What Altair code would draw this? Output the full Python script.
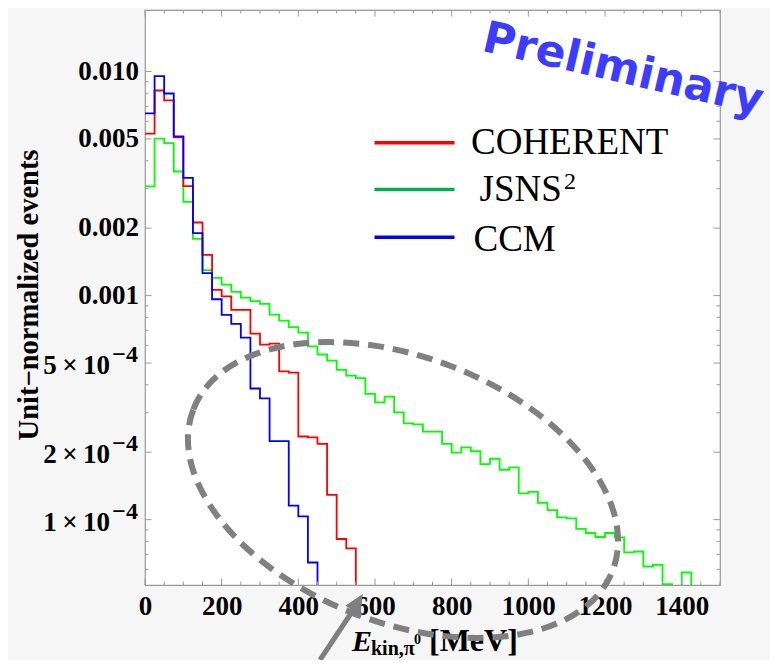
import altair as alt
import pandas as pd

# ---------------- data ----------------
BIN_WIDTH = 25  # MeV
SERIES = ["JSNS²", "COHERENT", "CCM"]          # drawing order (CCM on top)
LEGEND_ORDER = ["COHERENT", "JSNS²", "CCM"]

COHERENT = [0.00528, 0.00823, 0.00743, 0.00509, 0.00308, 0.00212, 0.00152, 0.00106,
            0.000993, 0.000863, 0.000863, 0.000676, 0.000604, 0.000610, 0.000459, 0.000453,
            0.000235, 0.000233, 0.000218, 0.000129, 8.2e-5, 7.45e-5]

JSNS2 = [0.00307, 0.00502, 0.00479, 0.00358, 0.00262, 0.00179, 0.00130, 0.00120,
         0.00112, 0.00104, 0.000980, 0.000944, 0.000919, 0.000822, 0.000773, 0.000724,
         0.000683, 0.000593, 0.000546, 0.000513, 0.000466, 0.000439, 0.000428, 0.000364,
         0.000334, 0.000354, 0.000301, 0.000269, 0.000266, 0.000247, 0.000247, 0.000218,
         0.000199, 0.000210, 0.000202, 0.000177, 0.000187, 0.000167, 0.000171, 0.000131,
         0.000133, 0.000119, 0.0001103, 0.0001023, 0.0001013, 9.09e-5, 8.72e-5, 8.37e-5,
         8.72e-5, 8.34e-5, 7.14e-5, 7.21e-5, 6.18e-5, 6.28e-5, 5.16e-5, None, 5.81e-5]

CCM = [0.00651, 0.00953, 0.00798, 0.00514, 0.00335, 0.00190, 0.00126, 0.000963,
       0.000820, 0.000748, 0.000649, 0.000385, 0.000348, 0.000224, 0.000224, 0.0001155,
       0.0001035, 6.44e-5]

X_TICKS = [0, 200, 400, 600, 800, 1000, 1200, 1400]
X_MINOR = [v for v in range(0, 1501, 50) if v not in X_TICKS]
Y_DEC_TICKS = [1e-3, 2e-3, 5e-3, 1e-2]
Y_DEC_LABELS = ["0.001", "0.002", "0.005", "0.010"]
Y_SCI_TICKS = [1e-4, 2e-4, 5e-4]
Y_SCI_MANT = ["1\u2009×\u200910", "2\u2009×\u200910", "5\u2009×\u200910"]
Y_SCI_EXP = ["−4", "−4", "−4"]
Y_TICKS = Y_SCI_TICKS + Y_DEC_TICKS
X_DOMAIN = [0, 1500]
Y_DOMAIN = [5.11e-5, 0.01882]
FLOOR = 1e-7   # empty bins (zero) drawn below the log axis

Y_MINOR = []
for e in (-5, -4, -3, -2):
    for k in range(1, 10):
        v = round(k * 10 ** e, 10)
        if Y_DOMAIN[0] <= v <= Y_DOMAIN[1] and all(abs(v - t) > 1e-12 for t in Y_TICKS):
            Y_MINOR.append(v)

LINE_COLORS = {"COHERENT": "#ff0000", "JSNS²": "#00ff00", "CCM": "#0000ff"}
LEGEND_COLORS = {"COHERENT": "#ff0000", "JSNS²": "#00b050", "CCM": "#0000ff"}
VALUES = {"COHERENT": COHERENT, "JSNS²": JSNS2, "CCM": CCM}

W, H = 575, 575
FRAME = "#9a9a9a"
SERIF = "Liberation Serif"


def step_frame(name):
    vals = VALUES[name]
    xs = [BIN_WIDTH * i for i in range(len(vals) + 1)]
    ys = [v if v is not None else FLOOR for v in vals] + [FLOOR]
    return pd.DataFrame({"x": xs, "y": ys, "series": name})


xscale = alt.Scale(domain=X_DOMAIN, nice=False, zero=False)
yscale = alt.Scale(type="log", domain=Y_DOMAIN, nice=False)

x_axis = alt.Axis(values=X_TICKS, format="d", title=None, ticks=False, domain=False, grid=False,
                  labelFont=SERIF, labelFontWeight="bold", labelFontSize=27, labelColor="black",
                  labelPadding=8, labelFlush=False, labelOverlap=False)
y_axis = alt.Axis(values=Y_TICKS, title=None, ticks=False, domain=False, grid=False, labels=False)


def X(field):
    return alt.X(field, scale=xscale, axis=x_axis)


def Y(field):
    return alt.Y(field, scale=yscale, axis=y_axis)


layers = []
for name in SERIES:
    layers.append(
        alt.Chart(step_frame(name)).mark_line(
            interpolate="step-after", clip=True, strokeWidth=1.8, color=LINE_COLORS[name]
        ).encode(x=X("x:Q"), y=Y("y:Q"))
    )


# inward frame ticks (Mathematica style)
def xticks(vals, length):
    d = pd.DataFrame({"v": vals})
    base = alt.Chart(d).mark_rule(color=FRAME, strokeWidth=1)
    return [
        base.encode(x=X("v:Q"), y=alt.value(H), y2=alt.value(H - length)),
        base.encode(x=X("v:Q"), y=alt.value(0), y2=alt.value(length)),
    ]


def yticks(vals, length):
    d = pd.DataFrame({"v": vals})
    base = alt.Chart(d).mark_rule(color=FRAME, strokeWidth=1)
    return [
        base.encode(y=Y("v:Q"), x=alt.value(0), x2=alt.value(length)),
        base.encode(y=Y("v:Q"), x=alt.value(W), x2=alt.value(W - length)),
    ]


layers += xticks(X_MINOR, 3.5) + xticks(X_TICKS, 6.5) + yticks(Y_MINOR, 3.5) + yticks(Y_TICKS, 6.5)

# y tick labels (Mathematica-like, with raised exponents)
dec = pd.DataFrame({"v": Y_DEC_TICKS, "t": Y_DEC_LABELS})
sci = pd.DataFrame({"v": Y_SCI_TICKS, "m": Y_SCI_MANT, "e": Y_SCI_EXP})
layers.append(alt.Chart(dec).mark_text(font=SERIF, fontWeight="bold", fontSize=27, color="black",
                                       align="right", baseline="middle").encode(
    y=Y("v:Q"), x=alt.value(-6), text="t:N"))
layers.append(alt.Chart(sci).mark_text(font=SERIF, fontWeight="bold", fontSize=27, color="black",
                                       align="right", baseline="middle", dy=3).encode(
    y=Y("v:Q"), x=alt.value(-35), text="m:N"))
layers.append(alt.Chart(sci).mark_text(font=SERIF, fontWeight="bold", fontSize=24, color="black",
                                       align="right", baseline="middle", dy=-8).encode(
    y=Y("v:Q"), x=alt.value(-7), text="e:N"))

one = pd.DataFrame({"a": [0]})

# legend
LEG_LINE_Y = [132.8, 179.5, 227.2]
LEG_TEXT = [(326, 143.8), (334.5, 190.5), (328.5, 240.5)]
for i, name in enumerate(LEGEND_ORDER):
    layers.append(alt.Chart(one).mark_rule(color=LEGEND_COLORS[name], strokeWidth=3.5).encode(
        x=alt.value(229.5), x2=alt.value(309.5), y=alt.value(LEG_LINE_Y[i])))
    tx, ty = LEG_TEXT[i]
    label = "JSNS" if name == "JSNS²" else name
    layers.append(alt.Chart(one).mark_text(text=label, font=SERIF, fontSize=37, color="black",
                                           align="left", baseline="alphabetic").encode(
        x=alt.value(tx), y=alt.value(ty)))
# superscript 2 of JSNS²
layers.append(alt.Chart(one).mark_text(text="2", font=SERIF, fontSize=24, color="black",
                                       align="left", baseline="alphabetic").encode(
    x=alt.value(419), y=alt.value(178.5)))

# axis titles
layers.append(alt.Chart(one).mark_text(text="Unit−normalized events", font=SERIF, fontWeight="bold",
                                       fontSize=28.5, angle=270, align="center", baseline="middle",
                                       color="black").encode(x=alt.value(-116), y=alt.value(285)))
layers.append(alt.Chart(one).mark_text(text="E", font=SERIF, fontWeight="bold", fontStyle="italic",
                                       fontSize=30, align="left", baseline="alphabetic",
                                       color="black").encode(x=alt.value(207), y=alt.value(641)))
layers.append(alt.Chart(one).mark_text(text="kin,π", font=SERIF, fontWeight="bold",
                                       fontSize=20, align="left", baseline="alphabetic",
                                       color="black").encode(x=alt.value(226), y=alt.value(645)))
layers.append(alt.Chart(one).mark_text(text="0", font=SERIF, fontWeight="bold",
                                       fontSize=14, align="left", baseline="alphabetic",
                                       color="black").encode(x=alt.value(269), y=alt.value(634)))
layers.append(alt.Chart(one).mark_text(text="[MeV]", font=SERIF, fontWeight="bold",
                                       fontSize=32, align="left", baseline="alphabetic",
                                       color="black").encode(x=alt.value(284), y=alt.value(641)))

# dashed ellipse annotation
k, r = 0.5523, 0.5917
kr = k * r
ELLIPSE = (f"M -1 0 C -1 {-kr} {-k} {-r} 0 {-r} C {k} {-r} 1 {-kr} 1 0 "
           f"C 1 {kr} {k} {r} 0 {r} C {-k} {r} -1 {kr} -1 0 Z")
layers.append(alt.Chart(one).mark_point(shape=ELLIPSE, size=449.2 ** 2, angle=21, filled=False,
                                        stroke="#808080", strokeWidth=6, strokeDash=[16, 9],
                                        opacity=1).encode(x=alt.value(258), y=alt.value(480)))

# arrow
layers.append(alt.Chart(one).mark_rule(color="#7f7f7f", strokeWidth=5).encode(
    x=alt.value(175), y=alt.value(650), x2=alt.value(210.5), y2=alt.value(596.5)))
ARROW = "M 0 -1 L 0.8 0.75 L -0.8 0.75 Z"
layers.append(alt.Chart(one).mark_point(shape=ARROW, size=400, angle=31, filled=True,
                                        fill="#7f7f7f", stroke="#7f7f7f", strokeWidth=1,
                                        opacity=1).encode(x=alt.value(212), y=alt.value(593.5)))

# watermark
layers.append(alt.Chart(one).mark_text(text="Preliminary", font="DejaVu Sans", fontWeight="bold",
                                       fontSize=44, color="#3c3cff", angle=13, align="center",
                                       baseline="middle").encode(x=alt.value(478), y=alt.value(60)))

chart = alt.layer(*layers).properties(
    width=W, height=H,
    autosize=alt.AutoSizeParams(type="none"),
    padding={"left": 137, "top": 2, "right": 50, "bottom": 75},
    background="#f6f6f6",
).configure_view(stroke=FRAME, strokeWidth=1.2, fill="white")

chart.save("out.html", embed_options={"renderer": "svg", "actions": False})
